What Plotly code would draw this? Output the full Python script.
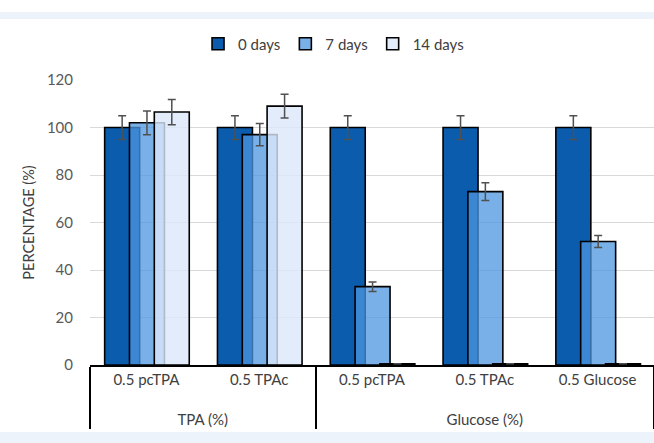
import plotly.graph_objects as go

# Sample groups (outer level) and samples (inner level)
groups = ["TPA (%)", "TPA (%)", "Glucose (%)", "Glucose (%)", "Glucose (%)"]
samples = ["0.5 pcTPA", "0.5 TPAc", "0.5 pcTPA", "0.5 TPAc", "0.5 Glucose"]

# Percentage remaining at each time point, with error (+/-)
days0 = [100, 100, 100, 100, 100]
err0 = [5, 5, 5, 5, 5]
days7 = [102, 97, 33, 73, 52]
err7 = [5, 4.7, 2, 3.7, 2.5]
days14 = [106.5, 109, 0.5, 0.5, 0.5]
err14 = [5.3, 5, None, None, None]

series_names = ["0 days", "7 days", "14 days"]
yticks = [0, 20, 40, 60, 80, 100, 120]

W, H = 654, 443
M_L, M_R, M_T, M_B = 90, 0, 80, 78
FONT = "Lato"


def ypaper(py):
    """Convert a pixel row of the page to paper coordinates."""
    return (H - M_B - py) / (H - M_T - M_B)


# inner labels get an extra blank line so the outer row sits lower
inner = [s + "<br>&nbsp;" for s in samples]
x = [groups, inner]
styles = [
    ("#0b5cad", days0, err0, -0.37),
    ("rgba(76,150,224,0.75)", days7, err7, -0.15),
    ("rgba(219,231,249,0.8)", days14, err14, 0.07),
]

fig = go.Figure()
for name, (color, vals, errs, off) in zip(series_names, styles):
    fig.add_trace(go.Bar(
        name=name,
        x=x,
        y=vals,
        width=0.31,
        offset=off,
        marker=dict(color=color, line=dict(color="#000000", width=1.6)),
        error_y=dict(type="data", array=errs, visible=True,
                     color="#505050", thickness=1.5, width=4),
    ))

fig.update_layout(
    width=W, height=H,
    barmode="overlay",
    paper_bgcolor="white",
    plot_bgcolor="white",
    margin=dict(l=M_L, r=M_R, t=M_T, b=M_B, pad=0),
    font=dict(family=FONT, size=14, color="#404040"),
    legend=dict(
        orientation="h", x=0.51, xref="container", xanchor="center",
        y=1 - 44 / H, yref="container", yanchor="middle",
        font=dict(size=15, color="#404040"),
        itemwidth=30, traceorder="normal",
        bgcolor="rgba(0,0,0,0)",
    ),
    showlegend=True,
    shapes=[
        dict(type="rect", xref="paper", yref="paper", x0=-0.2, x1=1.1,
             y0=ypaper(19), y1=ypaper(12), fillcolor="#edf3fb",
             line=dict(width=0), layer="below"),
        dict(type="rect", xref="paper", yref="paper", x0=-0.2, x1=1.1,
             y0=ypaper(H + 5), y1=ypaper(432), fillcolor="#edf3fb",
             line=dict(width=0), layer="below"),
    ],
)

fig.update_xaxes(
    type="multicategory",
    showline=True, linecolor="#000000", linewidth=2,
    showdividers=True, dividercolor="#000000", dividerwidth=2,
    showgrid=False,
    tickfont=dict(family=FONT, size=15, color="#404040"),
    ticks="",
)

fig.update_yaxes(
    range=[0, 120],
    tickvals=yticks,
    showgrid=True, gridcolor="#d9d9d9", gridwidth=1,
    zeroline=False, showline=False,
    ticks="", ticklabelstandoff=16,
    tickfont=dict(family=FONT, size=15, color="#595959"),
    title=dict(text="PERCENTAGE (%)", standoff=8,
               font=dict(family=FONT, size=14.5, color="#404040")),
)

fig.write_html("out.html")
